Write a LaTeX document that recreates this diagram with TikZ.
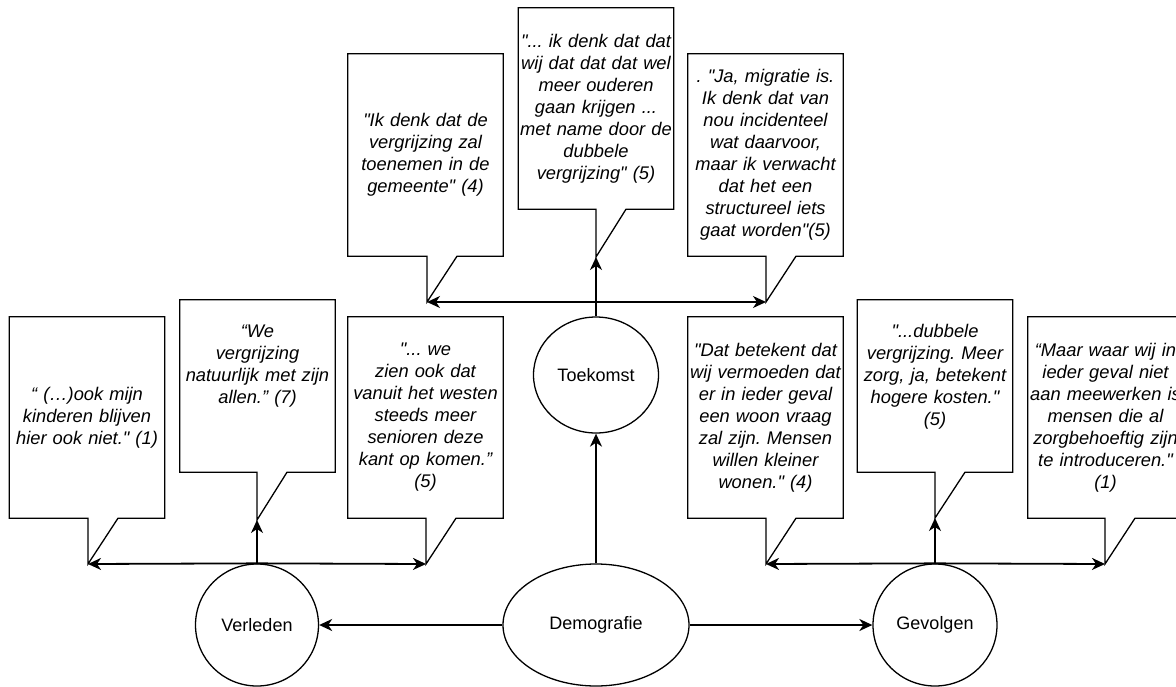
\documentclass[tikz,border=0pt]{standalone}
\usepackage{fontspec}
\setmainfont{Liberation Sans}[Ligatures=TeXOff]
\usepackage{tikz}
\usetikzlibrary{shapes.geometric,arrows.meta}
\frenchspacing

\tikzset{
	topic/.style={draw,ellipse,line width=1.3pt,inner sep=0pt,font=\fontsize{18}{22}\selectfont},
	quote/.style={text width=155pt,minimum width=155pt,inner sep=0pt,align=center,font=\fontsize{18.3}{22}\selectfont\itshape},
	quoteline/.style={line width=1.3pt},
	link/.style={line width=1.8pt,-{Stealth[length=13pt,width=12pt,inset=4pt]}}
}

\newcommand{\quotetail}[2]{\draw[quoteline] (#1.south west) -- (#1.north west) -- (#1.north east) -- (#1.south east) -- ([xshift=30pt]#2 |- #1.south) -- (#2) -- (#2 |- #1.south) -- cycle;}

\begin{document}
\begin{tikzpicture}[x=1pt,y=-1pt]
	\useasboundingbox (0,0) rectangle (1176,686);
	\clip (0,0) rectangle (1176,686);
	
	\node[topic,minimum width=186pt,minimum height=122pt] (demo) at (596,625) {Demografie};
	\node[topic,minimum width=123pt,minimum height=122pt] (verleden) at (257,625) {Verleden};
	\node[topic,minimum width=124pt,minimum height=122pt] (gevolgen) at (935,625) {Gevolgen};
	\node[topic,minimum width=125pt,minimum height=116pt] (toekomst) at (596,375) {Toekomst};
	
	\node[quote,minimum height=201pt] (vq1) at (87,417.5) {“ (…)ook mijn\\kinderen blijven\\hier ook niet." (1)};
	\node[quote,minimum height=172pt] (vq2) at (257.5,386) {“We\\vergrijzing\\natuurlijk met zijn\\allen.” (7)\\~\\~};
	\node[quote,minimum height=201pt] (vq3) at (425.5,417.5) {"... we\\zien ook dat\\vanuit het westen\\steeds meer\\senioren deze\\kant op komen.”\\(5)};
	
	\node[quote,minimum height=202pt] (tq1) at (425.5,155) {"Ik denk dat de\\vergrijzing zal\\toenemen in de\\gemeente" (4)};
	\node[quote,minimum height=201pt] (tq2) at (596,108.5) {"... ik denk dat dat\\wij dat dat dat wel\\meer ouderen\\gaan krijgen ...\\met name door de\\dubbele\\vergrijzing" (5)};
	\node[quote,minimum height=202pt] (tq3) at (765.5,155) {. "Ja, migratie is.\\Ik denk dat van\\nou incidenteel\\wat daarvoor,\\maar ik verwacht\\dat het een\\structureel iets\\gaat worden"(5)};
	
	\node[quote,minimum height=201pt] (gq1) at (765.5,417.5) {"Dat betekent dat\\wij vermoeden dat\\er in ieder geval\\een woon vraag\\zal zijn. Mensen\\willen kleiner\\wonen." (4)};
	\node[quote,minimum height=172pt] (gq2) at (935,386) {"...dubbele\\vergrijzing. Meer\\zorg, ja, betekent\\hogere kosten."\\(5)\\~};
	\node[quote,minimum height=201pt] (gq3) at (1105.5,417.5) {“Maar waar wij in\\ieder geval niet\\aan meewerken is\\mensen die al\\zorgbehoeftig zijn\\te introduceren."\\(1)};
	
	\coordinate (vt1) at (88,564);
	\coordinate (vt2) at (257,520);
	\coordinate (vt3) at (426,564);
	\coordinate (tt1) at (427,302);
	\coordinate (tt2) at (596,257);
	\coordinate (tt3) at (766,302);
	\coordinate (gt1) at (766,564);
	\coordinate (gt2) at (935,518);
	\coordinate (gt3) at (1105,564);
	
	\quotetail{vq1}{vt1}
	\quotetail{vq2}{vt2}
	\quotetail{vq3}{vt3}
	\quotetail{tq1}{tt1}
	\quotetail{tq2}{tt2}
	\quotetail{tq3}{tt3}
	\quotetail{gq1}{gt1}
	\quotetail{gq2}{gt2}
	\quotetail{gq3}{gt3}
	
	\draw[link] (demo) -- (verleden);
	\draw[link] (demo) -- (gevolgen);
	\draw[link] (demo) -- (toekomst);
	
	\draw[link] (verleden.north) -- (vt1);
	\draw[link] (verleden.north) -- (vt2);
	\draw[link] (verleden.north) -- (vt3);
	
	\draw[link] (toekomst.north) -- (tt2);
	\draw[link] (toekomst.north |- tt1) -- (tt1);
	\draw[link] (toekomst.north |- tt3) -- (tt3);
	
	\draw[link] (gevolgen.north) -- (gt1);
	\draw[link] (gevolgen.north) -- (gt2);
	\draw[link] (gevolgen.north) -- (gt3);
\end{tikzpicture}
\end{document}
